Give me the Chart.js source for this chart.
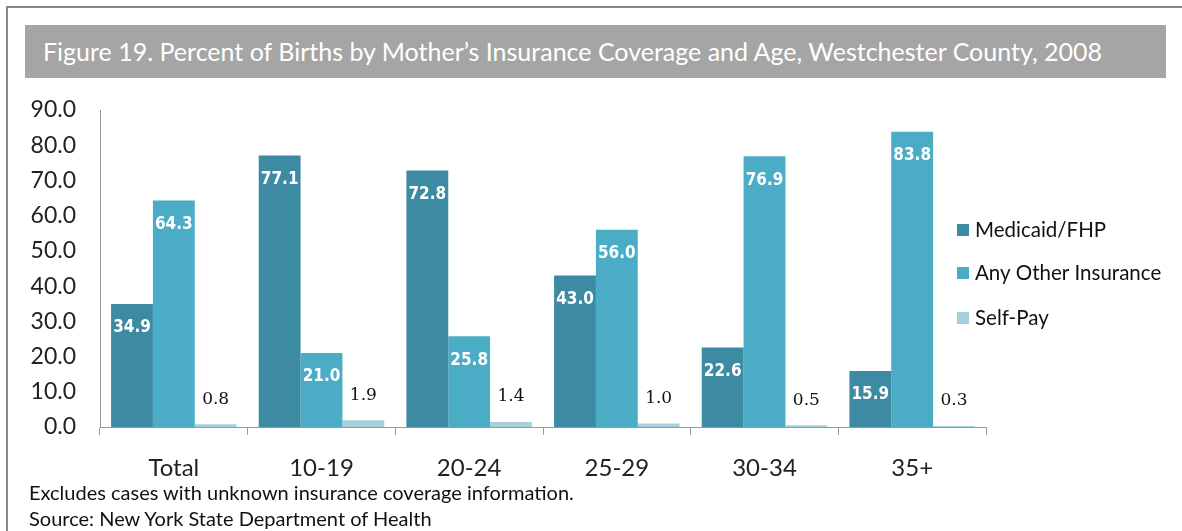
<!DOCTYPE html>
<html>
<head>
<meta charset="utf-8">
<script src="https://cdn.jsdelivr.net/npm/chart.js@4"></script>
<style>
  body { margin: 0; background: #fff; width: 1182px; height: 531px; overflow: hidden; position: relative; font-family: Lato, "Open Sans", sans-serif; }
  #frame { position: absolute; left: 6px; top: 6px; width: 1200px; height: 600px; border-left: 2px solid #888; border-top: 2px solid #888; }
  #title { position: absolute; left: 25px; top: 25px; width: 1141px; height: 53px; background: #a5a5a5; color: #fff; font-size: 25px; line-height: 53px; padding-left: 18px; box-sizing: border-box; white-space: nowrap; }
  #wrap { position: absolute; left: 0; top: 0; width: 1182px; height: 531px; }
  .note { position: absolute; left: 29px; font-size: 20px; color: #111; white-space: nowrap; }
</style>
</head>
<body>
<div id="frame"></div>
<div id="title">Figure 19. Percent of Births by Mother’s Insurance Coverage and Age, Westchester County, 2008</div>
<div id="wrap"><canvas id="chart"></canvas></div>
<div class="note" style="top:480px">Excludes cases with unknown insurance coverage information.</div>
<div class="note" style="top:506px">Source: New York State Department of Health</div>
<script>
var ageGroups = ["Total", "10-19", "20-24", "25-29", "30-34", "35+"]
var medicaid = [34.9, 77.1, 72.8, 43.0, 22.6, 15.9]
var otherIns = [64.3, 21.0, 25.8, 56.0, 76.9, 83.8]
var selfPay = [0.8, 1.9, 1.4, 1.0, 0.5, 0.3]
var yTicks = [0, 10, 20, 30, 40, 50, 60, 70, 80, 90]

// value labels: inside top for the two big series, above for self-pay
const barLabels = {
    id: "barLabels",
    afterDatasetsDraw(chart) {
        var ctx = chart.ctx
        ctx.save()
        ctx.textAlign = "center"
        ctx.textBaseline = "middle"
        chart.data.datasets.forEach(function (ds, i) {
            chart.getDatasetMeta(i).data.forEach(function (bar, j) {
                var txt = ds.data[j].toFixed(1)
                if (i < 2) {
                    ctx.fillStyle = "#ffffff"
                    ctx.font = "bold 17px 'DejaVu Sans Condensed', 'DejaVu Sans', sans-serif"
                    ctx.fillText(txt, bar.x, bar.y + 24)
                } else {
                    ctx.fillStyle = "#111111"
                    ctx.font = "17px 'DejaVu Serif', serif"
                    ctx.fillText(txt, bar.x, bar.y - 25)
                }
            })
        })
        ctx.restore()
    }
}

// legend drawn to the right, overlapping the plot edge like the original
const sideLegend = {
    id: "sideLegend",
    afterDraw(chart) {
        var ctx = chart.ctx
        ctx.save()
        ctx.textBaseline = "middle"
        ctx.font = "20.5px Lato, sans-serif"
        var rows = [230, 273, 318]
        chart.data.datasets.forEach(function (ds, i) {
            ctx.fillStyle = ds.backgroundColor
            ctx.fillRect(957, rows[i] - 6, 12, 12)
            ctx.fillStyle = "#111111"
            ctx.fillText(ds.label, 975, rows[i])
        })
        ctx.restore()
    }
}

const chartData = {
    labels: ageGroups,
    datasets: [
        { label: "Medicaid/FHP", data: medicaid, backgroundColor: "#3d8ba3" },
        { label: "Any Other Insurance", data: otherIns, backgroundColor: "#4aacc5" },
        { label: "Self-Pay", data: selfPay, backgroundColor: "#a6cfdc" }
    ]
}

new Chart(document.getElementById("chart"), {
    type: "bar",
    data: chartData,
    plugins: [barLabels, sideLegend],
    options: {
        responsive: true,
        maintainAspectRatio: false,
        animation: false,
        layout: { padding: { top: 110, right: 196, bottom: 0, left: 0 } },
        datasets: { bar: { categoryPercentage: 0.85, barPercentage: 1.0 } },
        plugins: {
            legend: { display: false },
            tooltip: { enabled: false }
        },
        scales: {
            x: {
                offset: true,
                afterFit: function (s) { s.height = 104 },
                grid: { display: true, offset: true, drawOnChartArea: false, drawTicks: true, tickLength: 8, color: "#999" },
                border: { display: true, color: "#999" },
                ticks: { color: "#222", padding: 19, font: { size: 24, family: "Lato" } }
            },
            y: {
                min: 0,
                max: 90,
                afterFit: function (s) { s.width = 100 },
                afterBuildTicks: function (s) { s.ticks = yTicks.map(function (v) { return { value: v } }) },
                grid: { display: false, drawTicks: false },
                border: { display: true, color: "#999" },
                ticks: {
                    color: "#222",
                    padding: 24,
                    font: { size: 23, family: "Lato" },
                    callback: function (v) { return v.toFixed(1) }
                }
            }
        }
    }
})
</script>
</body>
</html>
